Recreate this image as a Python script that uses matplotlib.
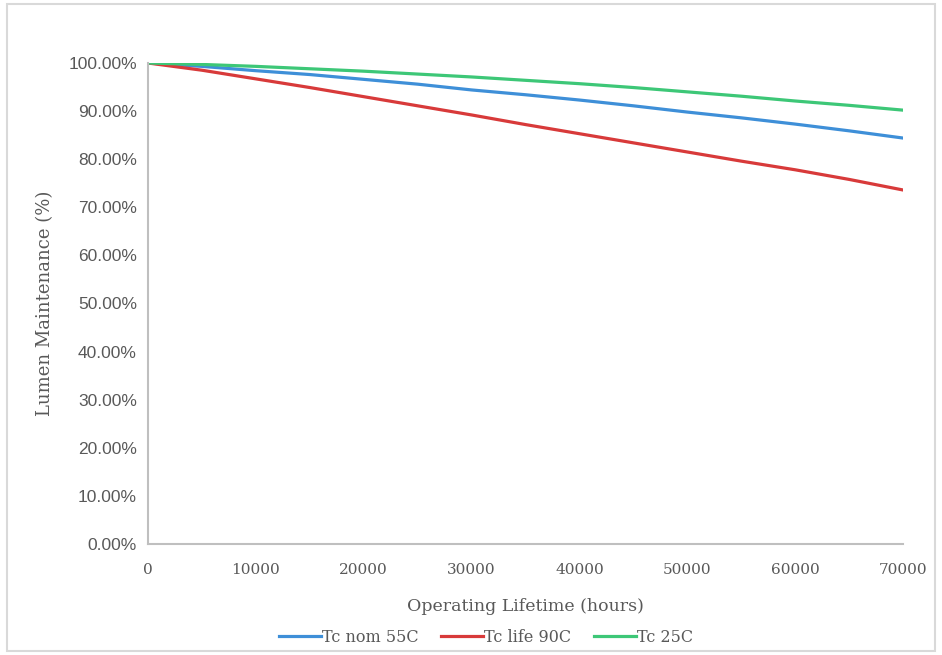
import matplotlib
matplotlib.use("Agg")
import matplotlib.pyplot as plt
from matplotlib.patches import Rectangle
from matplotlib.ticker import FuncFormatter

# hours of operation
hours = [0, 5000, 10000, 15000, 20000, 25000, 30000, 35000,
         40000, 45000, 50000, 55000, 60000, 65000, 70000]

# lumen maintenance (%)
tc_nom_55 = [100.0, 99.3, 98.4, 97.6, 96.6, 95.6, 94.4, 93.4,
             92.3, 91.1, 89.8, 88.6, 87.3, 85.9, 84.4]
tc_life_90 = [100.0, 98.5, 96.7, 94.9, 93.0, 91.1, 89.2, 87.2,
              85.3, 83.4, 81.5, 79.6, 77.8, 75.8, 73.6]
tc_25 = [100.0, 99.7, 99.3, 98.8, 98.3, 97.7, 97.1, 96.4,
         95.7, 94.9, 94.0, 93.1, 92.1, 91.2, 90.2]

x_ticks = [0, 10000, 20000, 30000, 40000, 50000, 60000, 70000]
y_ticks = [0, 10, 20, 30, 40, 50, 60, 70, 80, 90, 100]

SERIF = "DejaVu Serif"
SANS = "Liberation Sans"
TXT = "#595959"

fig = plt.figure(figsize=(9.42, 6.55), dpi=100)
ax = fig.add_axes([148/942, 1-544/655, (903-148)/942, (544-63)/655])

# chart border like the spreadsheet frame
fig.patches.append(Rectangle((7/942, 4/655), 928/942, 647/655, transform=fig.transFigure,
                             fill=False, edgecolor="#d9d9d9", linewidth=1.5))

ax.plot(hours, tc_nom_55, color="#3e8fd8", lw=2.3, label="Tc nom 55C")
ax.plot(hours, tc_life_90, color="#d83a3a", lw=2.3, label="Tc life 90C")
ax.plot(hours, tc_25, color="#3dc777", lw=2.3, label="Tc 25C")

ax.set_xlim(0, 70000)
ax.set_ylim(0, 100)
ax.set_xticks(x_ticks)
ax.set_yticks(y_ticks)
ax.yaxis.set_major_formatter(FuncFormatter(lambda v, p: f"{v:.2f}%"))

for lab in ax.get_xticklabels():
    lab.set_fontfamily(SERIF)
    lab.set_fontsize(11)
    lab.set_color(TXT)
for lab in ax.get_yticklabels():
    lab.set_fontfamily(SANS)
    lab.set_fontsize(12.5)
    lab.set_color(TXT)

ax.tick_params(length=0, pad=8)
ax.tick_params(axis="x", pad=14)

for s in ["top", "right"]:
    ax.spines[s].set_visible(False)
for s in ["left", "bottom"]:
    ax.spines[s].set_color("#bfbfbf")
    ax.spines[s].set_linewidth(1.5)

ax.set_xlabel("Operating Lifetime (hours)", fontfamily=SERIF, fontsize=12.5,
              color=TXT, labelpad=15)
ax.set_ylabel("Lumen Maintenance (%)", fontfamily=SERIF, fontsize=13,
              color=TXT, labelpad=10)

leg = ax.legend(loc="upper center", bbox_to_anchor=(0.448, -0.147), ncol=3,
                frameon=False, handlelength=2.6, handletextpad=0.1,
                columnspacing=1.4, prop={"family": SERIF, "size": 11.5})
for t in leg.get_texts():
    t.set_color(TXT)

fig.savefig("out.png", dpi=100)
